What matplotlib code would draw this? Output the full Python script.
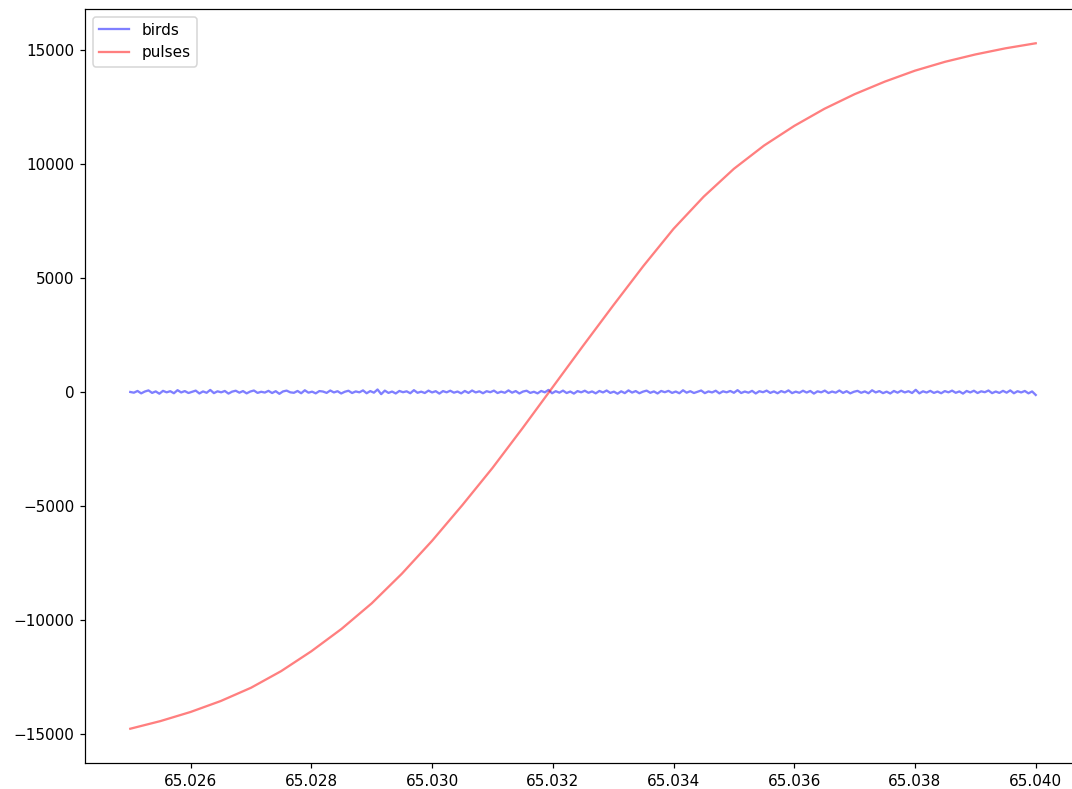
import numpy as np
import matplotlib
matplotlib.use('Agg')
import matplotlib.pyplot as plt

# pulses curve, every 0.0005
pulse_t = [65.0250, 65.0255, 65.0260, 65.0265, 65.0270, 65.0275, 65.0280, 65.0285,
           65.0290, 65.0295, 65.0300, 65.0305, 65.0310, 65.0315, 65.0320, 65.0325,
           65.0330, 65.0335, 65.0340, 65.0345, 65.0350, 65.0355, 65.0360, 65.0365,
           65.0370, 65.0375, 65.0380, 65.0385, 65.0390, 65.0395, 65.0400]
pulse_v = [-14755, -14420, -14020, -13540, -12960, -12230, -11360, -10380,
           -9260, -7960, -6520, -4960, -3330, -1580, 220, 2020,
           3790, 5520, 7150, 8560, 9780, 10800, 11660, 12410,
           13050, 13600, 14080, 14470, 14790, 15060, 15280]

# birds trace: jitter around zero, approximate sample values
birds_v = [0, -30, 45, -60, 20, 70, -40, 25, -75, 50, -15, 35, -55, 80, -20, 40,
           -45, 10, 60, -65, 25, -35, 90, -50, 30, -15, 45, -70, 15, 55,
           -30, 40, -60, 20, 65, -40, 10, -25, 50, -45, 35, -80, 25, 60, -15,
           -35, 45, -55, 75, -30, 15, -60, 40, 20, -40, 65, -20, 35, -65, 10,
           55, -45, 25, -15, 70, -55, 40, -30, 110, -95, 60, -40, 20, -65, 45,
           -10, 30, -55, 80, -35, 15, -45, 60, -20, 35, -70, 40, -15, 55, -30,
           20, -60, 45, -40, 65, -20, 30, -55, 35, -10, 60, -45, 15, -35, 70,
           -30, 40, -65, 20, 55, -40, 10, -60, 45, -15, 90, -55, 35, -30, 60,
           -45, 20, -70, 40, -15, 55, -35, 25, -60, 45, -20, 65, -40, 15, -75,
           30, -50, 70, -25, 40, -55, 15, 60, -35, 25, -65, 45, -10, 50, -40,
           20, -55, 75, -30, 35, -45, 10, 65, -50, 25, -20, 55, -60, 30, -15,
           45, -35, 80, -45, 20, -30, 50, -65, 35, -10, 60, -40, 25, -55, 40,
           -20, 70, -50, 15, -35, 55, -25, 45, -70, 30, -15, 60, -45, 20, -30,
           65, -40, 35, -60, 10, 50, -35, 25, -55, 75, -20, 40, -50, 15, -65,
           45, -30, 55, -20, 35, -45, 95, -60, 30, -25, 50, -40, 20, -55, 40,
           -15, 60, -35, 25, -70, 45, -20, 55, -45, 30, -10, 65, -50, 20, -40,
           50, -30, 70, -55, 35, -20, 45, -60, 25, -130]
birds_t = np.linspace(65.025, 65.040, len(birds_v))

# reference looks rendered at ~110 dpi
fig, ax = plt.subplots(figsize=(1072 / 110, 789 / 110), dpi=110)
ax.plot(birds_t, birds_v, 'b', alpha=0.5, label='birds')
ax.plot(pulse_t, pulse_v, 'r', alpha=0.5, label='pulses')
ax.legend(loc='upper left')
ax.set_xticks([65.026, 65.028, 65.030, 65.032, 65.034, 65.036, 65.038, 65.040])
ax.set_xticklabels(['65.026', '65.028', '65.030', '65.032', '65.034', '65.036', '65.038', '65.040'])
fig.subplots_adjust(left=85 / 1072, right=1081 / 1072, top=1 - 9 / 789, bottom=1 - 763 / 789)
fig.savefig('out.png', dpi=110)
